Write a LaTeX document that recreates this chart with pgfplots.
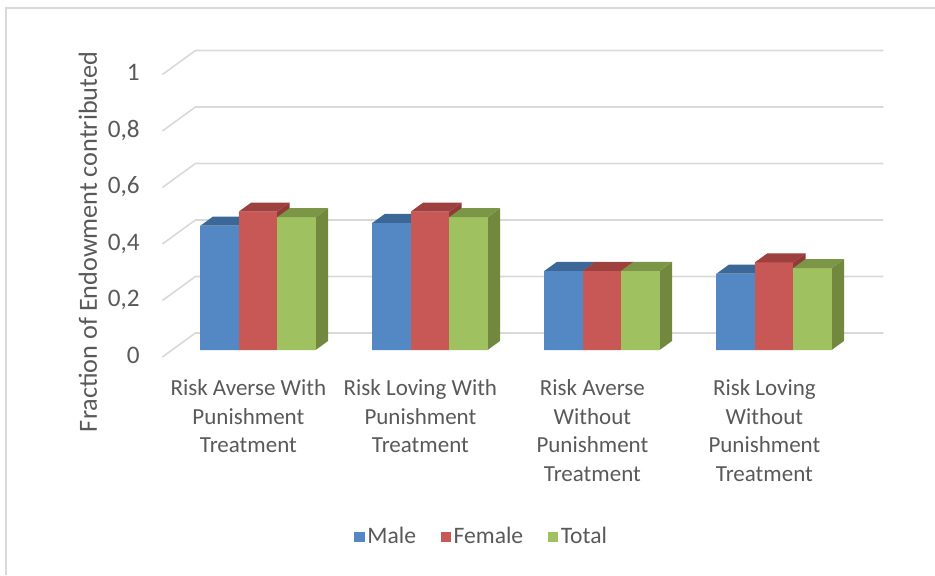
\documentclass[border=0pt]{standalone}
\usepackage{pgfplots}
\usepackage{pgfplotstable}
\usepackage{fontspec}
\setmainfont{Carlito}
\pgfplotsset{compat=1.18}
\definecolor{txt}{RGB}{89,89,89}
\definecolor{gridc}{RGB}{217,217,217}
\definecolor{blueF}{RGB}{84,136,197}
\definecolor{blueT}{RGB}{60,104,152}
\definecolor{blueS}{RGB}{55,95,140}
\definecolor{redF}{RGB}{199,88,85}
\definecolor{redT}{RGB}{158,64,61}
\definecolor{redS}{RGB}{145,58,55}
\definecolor{greenF}{RGB}{160,193,96}
\definecolor{greenT}{RGB}{122,150,70}
\definecolor{greenS}{RGB}{113,136,62}
\pgfplotstableread{
x male female total
0 0.44 0.49 0.47
1 0.45 0.49 0.47
2 0.28 0.28 0.28
3 0.27 0.31 0.29
}\datatable
\pgfplotsset{
  face3d/.style n args={4}{
    only marks, mark=*, mark size=0pt, draw=none, fill=none, forget plot,
    scatter, point meta=y,
    visualization depends on={y \as \rawy},
    scatter/@pre marker code/.code={%
      \pgfmathsetmacro\hh{\rawy*141.25}%
      \fill[#3] (#1+9.6pt,0pt) -- (#1+15.8pt,4.5pt) -- (#1+15.8pt,4.5pt-\hh pt) -- (#1+9.6pt,-\hh pt) -- cycle;
      \fill[#4] (#1-9.6pt,-\hh pt) rectangle (#1+9.6pt,0pt);
      \fill[#2] (#1-9.6pt,0pt) -- (#1+9.6pt,0pt) -- (#1+15.8pt,4.5pt) -- (#1-3.4pt,4.5pt) -- cycle;
    },
    scatter/@post marker code/.code={},
  },
  bar3d/.style 2 args={
    ybar, bar width=19.2pt, bar shift=#1, fill=#2, draw=none,
    legend image code/.code={\fill[fill=#2,draw=none] (0pt,-2.6pt) rectangle (5.2pt,2.6pt);},
  },
}
\begin{document}
\begin{tikzpicture}
\path[use as bounding box] (-86pt,-112.5pt) rectangle (381.5pt,175pt);
\draw[gridc, line width=1pt] (-83pt,-112.5pt) -- (-83pt,171pt) -- (381.5pt,171pt);
\begin{axis}[
  at={(0pt,0pt)}, anchor=south west,
  scale only axis, width=344pt, height=141.25pt,
  xmin=-0.5, xmax=3.5, ymin=0, ymax=1,
  clip=false,
  axis line style={draw=none}, tick style={draw=none}, major tick length=0pt,
  xtick={0,1,2,3},
  xticklabels={{Risk Averse With\\Punishment\\Treatment},
               {Risk Loving With\\Punishment\\Treatment},
               {Risk Averse\\Without\\Punishment\\Treatment},
               {Risk Loving\\Without\\Punishment\\Treatment}},
  xticklabel style={align=center, anchor=north, inner sep=0pt, xshift=-4.8pt, yshift=-14.6pt,
     font=\fontsize{11.5}{14.35}\selectfont, text=txt},
  ytick={0,0.2,0.4,0.6,0.8,1},
  yticklabel style={anchor=base east, inner sep=0pt, xshift=-16pt, yshift=-6.6pt,
     font=\fontsize{12.6}{14}\selectfont, text=txt,
     /pgf/number format/.cd, use comma, fixed, precision=1, assume math mode=true},
  ylabel={Fraction of Endowment contributed},
  ylabel style={at={(rel axis cs:-0.1221,0.3823)}, anchor=center, inner sep=0pt,
     font=\fontsize{13.1}{14}\selectfont, text=txt},
  legend columns=3,
  legend style={at={(rel axis cs:0.4506,-0.662)}, anchor=center, draw=none, fill=none,
     font=\fontsize{11.8}{14}\selectfont, text=txt,
     /tikz/every even column/.append style={column sep=11pt},
     nodes={inner sep=1.3pt}},
]
\pgfplotsinvokeforeach{0,0.2,0.4,0.6,0.8,1}{
  \draw[gridc, line width=0.8pt]
    ([xshift=-4.8pt,yshift=-3.5pt]axis cs:-0.5,#1) --
    ([xshift=11.7pt,yshift=8.5pt]axis cs:-0.5,#1) --
    ([xshift=11.7pt,yshift=8.5pt]axis cs:3.5,#1);
}
\addplot[bar3d={-19.2pt}{blueF}] table[x=x,y=male]{\datatable};
\addlegendentry{Male}
\addplot[face3d={-19.2pt}{blueT}{blueS}{blueF}] table[x=x,y=male]{\datatable};
\addplot[bar3d={0pt}{redF}] table[x=x,y=female]{\datatable};
\addlegendentry{Female}
\addplot[face3d={0pt}{redT}{redS}{redF}] table[x=x,y=female]{\datatable};
\addplot[bar3d={19.2pt}{greenF}] table[x=x,y=total]{\datatable};
\addlegendentry{Total}
\addplot[face3d={19.2pt}{greenT}{greenS}{greenF}] table[x=x,y=total]{\datatable};
\end{axis}
\end{tikzpicture}
\end{document}
